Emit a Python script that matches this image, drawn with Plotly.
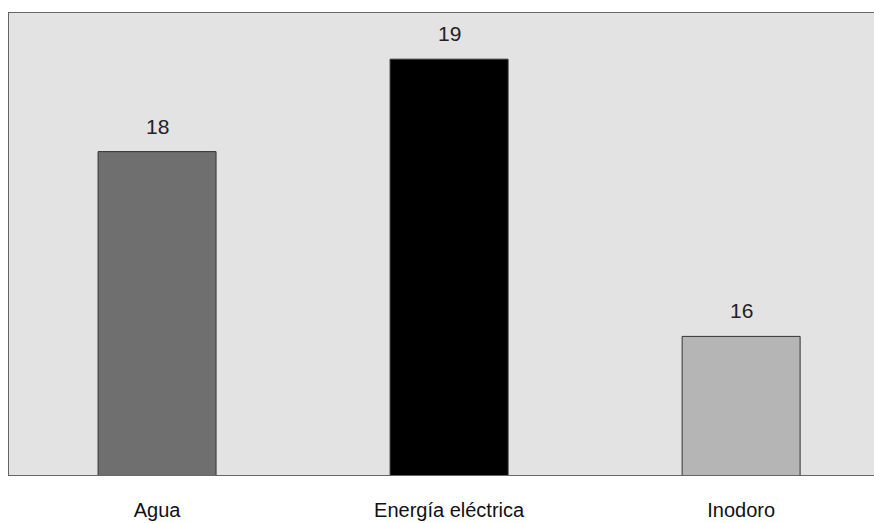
import plotly.graph_objects as go

categories = ["Agua", "Energía eléctrica", "Inodoro"]
values = [18, 19, 16]
colors = ["#6f6f6f", "#000000", "#b5b5b5"]

fig = go.Figure()
fig.add_trace(go.Bar(
    x=categories, y=values,
    marker=dict(color=colors, line=dict(color="#333333", width=1)),
    width=0.404,
    hoverinfo="skip",
))
for c, v in zip(categories, values):
    fig.add_annotation(x=c, y=v, text=str(v), showarrow=False,
                       yanchor="bottom", yshift=12,
                       font=dict(family="Arial, Liberation Sans", size=21, color="#222222"))

fig.update_layout(
    width=874, height=523,
    margin=dict(l=9, r=0, t=13, b=48, autoexpand=False),
    paper_bgcolor="white",
    plot_bgcolor="#e3e3e3",
    showlegend=False,
    font=dict(family="Arial, Liberation Sans", size=20, color="#111111"),
    xaxis=dict(range=[-0.507, 2.455], showgrid=False, showline=True, linecolor="#666666",
               linewidth=1, mirror=True, ticks="", ticklabelstandoff=17, automargin=False,
               tickfont=dict(size=20, color="#111111")),
    yaxis=dict(range=[14.5, 19.5], showgrid=False, showticklabels=False, showline=True,
               linecolor="#666666", linewidth=1, mirror=False, zeroline=False, automargin=False),
)
fig.write_html("out.html")
